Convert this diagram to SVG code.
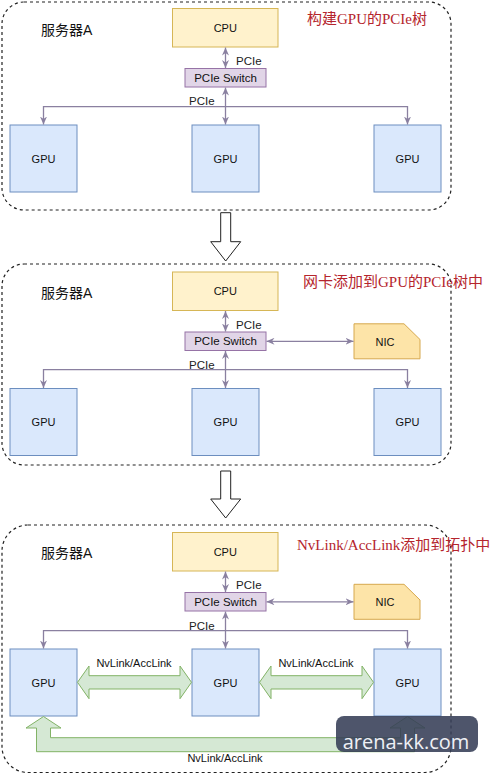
<svg xmlns="http://www.w3.org/2000/svg" width="500" height="774" viewBox="0 0 500 774">
<style>
.panel{fill:none;stroke:#222;stroke-width:1.2;stroke-dasharray:3 3}
.cpu{fill:#fff2cc;stroke:#d6b656;stroke-width:1}
.sw{fill:#e1d5e7;stroke:#9673a6;stroke-width:1}
.gpu{fill:#dae8fc;stroke:#6c8ebf;stroke-width:1}
.nic{fill:#fde4a8;stroke:#d6a84e;stroke-width:1}
.t{font-family:"Liberation Sans",Arial,sans-serif;font-size:11px;fill:#111;text-anchor:middle;dominant-baseline:central}
.lbl{font-family:"Liberation Sans",Arial,sans-serif;font-size:11.5px;fill:#222}
.srv{font-family:"Liberation Sans","Noto Sans CJK SC",sans-serif;font-size:14px;fill:#111}
.title{font-family:"Liberation Serif","Noto Sans CJK SC",serif;font-size:15px;fill:#b5252d}
.edge{fill:none;stroke:#8a80a0;stroke-width:1.3}
.nv{fill:#d5e8d4;stroke:#82b366;stroke-width:1}
.flow{fill:#fff;stroke:#222;stroke-width:1}
</style>
<defs>
<marker id="ah" viewBox="0 0 8 7" refX="8" refY="3.5" markerWidth="8" markerHeight="7" markerUnits="userSpaceOnUse" orient="auto-start-reverse">
<path d="M0,0 L8,3.5 L0,7 L2.5,3.5Z" fill="#8a80a0"/>
</marker>
</defs>
<rect width="500" height="774" fill="#ffffff"/>

<!-- Panel 1 -->
<g id="panel1">
<rect class="panel" x="2" y="2" width="449" height="208" rx="22"/>
<text class="srv" x="41" y="34.5">服务器A</text>
<text class="title" x="307" y="23.5">构建GPU的PCIe树</text>
<g id="p1-cpu"><rect class="cpu" x="172.5" y="8.5" width="105.5" height="38.5"/><text class="t" x="225.3" y="27.8">CPU</text></g>
<g id="p1-switch"><rect class="sw" x="185" y="68.5" width="81" height="18.5"/><text class="t" style="font-size:11.5px" x="225.5" y="77.8">PCIe Switch</text></g>
<g id="p1-gpu1"><rect class="gpu" x="10" y="125" width="67" height="67"/><text class="t" x="43.5" y="158.5">GPU</text></g>
<g id="p1-gpu2"><rect class="gpu" x="192" y="125" width="67" height="67"/><text class="t" x="225.5" y="158.5">GPU</text></g>
<g id="p1-gpu3"><rect class="gpu" x="374" y="125" width="67" height="67"/><text class="t" x="407.5" y="158.5">GPU</text></g>
</g>

<!-- Panel 2 -->
<g id="panel2">
<rect class="panel" x="2" y="264" width="449" height="201" rx="22"/>
<text class="srv" x="41" y="298">服务器A</text>
<text class="title" x="303" y="286.5">网卡添加到GPU的PCIe树中</text>
<g transform="translate(0,263.5)">
<g id="p2-cpu"><rect class="cpu" x="172.5" y="8.5" width="105.5" height="38.5"/><text class="t" x="225.3" y="27.8">CPU</text></g>
<g id="p2-switch"><rect class="sw" x="185" y="68.5" width="81" height="18.5"/><text class="t" style="font-size:11.5px" x="225.5" y="77.8">PCIe Switch</text></g>
<g id="p2-nic"><path class="nic" d="M354,60.3 H404 L420,76 V95.3 H354 Z"/><text class="t" x="385" y="78">NIC</text></g>
<g id="p2-gpu1"><rect class="gpu" x="10" y="125" width="67" height="67"/><text class="t" x="43.5" y="158.5">GPU</text></g>
<g id="p2-gpu2"><rect class="gpu" x="192" y="125" width="67" height="67"/><text class="t" x="225.5" y="158.5">GPU</text></g>
<g id="p2-gpu3"><rect class="gpu" x="374" y="125" width="67" height="67"/><text class="t" x="407.5" y="158.5">GPU</text></g>
</g>
</g>

<!-- Panel 3 -->
<g id="panel3">
<rect class="panel" x="2" y="525" width="449" height="247.5" rx="26"/>
<text class="srv" x="41" y="557.5">服务器A</text>
<text class="title" x="297" y="549.5">NvLink/AccLink添加到拓扑中</text>
<g transform="translate(0,524)">
<g id="p3-cpu"><rect class="cpu" x="172.5" y="8.5" width="105.5" height="38.5"/><text class="t" x="225.3" y="27.8">CPU</text></g>
<g id="p3-switch"><rect class="sw" x="185" y="68.5" width="81" height="18.5"/><text class="t" style="font-size:11.5px" x="225.5" y="77.8">PCIe Switch</text></g>
<g id="p3-nic"><path class="nic" d="M354,60.3 H404 L420,76 V95.3 H354 Z"/><text class="t" x="385" y="78">NIC</text></g>
<g id="p3-gpu1"><rect class="gpu" x="10" y="125" width="67" height="67"/><text class="t" x="43.5" y="158.5">GPU</text></g>
<g id="p3-gpu2"><rect class="gpu" x="192" y="125" width="67" height="67"/><text class="t" x="225.5" y="158.5">GPU</text></g>
<g id="p3-gpu3"><rect class="gpu" x="374" y="125" width="67" height="67"/><text class="t" x="407.5" y="158.5">GPU</text></g>
</g>
</g>

<!-- Connectors -->
<g id="connectors">
<g id="pcie-p1">
<line class="edge" x1="225.5" y1="47.5" x2="225.5" y2="68" marker-start="url(#ah)" marker-end="url(#ah)"/>
<text class="lbl" x="236" y="65">PCIe</text>
<line class="edge" x1="225.5" y1="87.5" x2="225.5" y2="124.5" marker-start="url(#ah)" marker-end="url(#ah)"/>
<path class="edge" d="M225.5,106.7 H43.5 V124.5" marker-end="url(#ah)"/>
<path class="edge" d="M225.5,106.7 H407.5 V124.5" marker-end="url(#ah)"/>
<text class="lbl" x="189" y="105">PCIe</text>
</g>
<g id="pcie-p2" transform="translate(0,263.5)">
<line class="edge" x1="225.5" y1="47.5" x2="225.5" y2="68" marker-start="url(#ah)" marker-end="url(#ah)"/>
<text class="lbl" x="236" y="65">PCIe</text>
<line class="edge" x1="225.5" y1="87.5" x2="225.5" y2="124.5" marker-start="url(#ah)" marker-end="url(#ah)"/>
<path class="edge" d="M225.5,106.2 H43.5 V124.5" marker-end="url(#ah)"/>
<path class="edge" d="M225.5,106.2 H407.5 V124.5" marker-end="url(#ah)"/>
<text class="lbl" x="189" y="105.5">PCIe</text>
<line class="edge" x1="266.5" y1="77.8" x2="353.5" y2="77.8" marker-start="url(#ah)" marker-end="url(#ah)"/>
</g>
<g id="pcie-p3" transform="translate(0,524)">
<line class="edge" x1="225.5" y1="47.5" x2="225.5" y2="68" marker-start="url(#ah)" marker-end="url(#ah)"/>
<text class="lbl" x="236" y="65">PCIe</text>
<line class="edge" x1="225.5" y1="87.5" x2="225.5" y2="124.5" marker-start="url(#ah)" marker-end="url(#ah)"/>
<path class="edge" d="M225.5,106.7 H43.5 V124.5" marker-end="url(#ah)"/>
<path class="edge" d="M225.5,106.7 H407.5 V124.5" marker-end="url(#ah)"/>
<text class="lbl" x="189" y="105.5">PCIe</text>
<line class="edge" x1="266.5" y1="77.8" x2="353.5" y2="77.8" marker-start="url(#ah)" marker-end="url(#ah)"/>
</g>
<g id="nvlink">
<path class="nv" d="M77.5,682.3 L89,666 V675.7 H180 V666 L191.5,682.3 L180,698.7 V689 H89 V698.7 Z"/>
<text class="t" x="134" y="662.7">NvLink/AccLink</text>
<path class="nv" d="M259.5,682.3 L271,666 V675.7 H362 V666 L373.5,682.3 L362,698.7 V689 H271 V698.7 Z"/>
<text class="t" x="316" y="662.7">NvLink/AccLink</text>
<path class="nv" d="M43.5,716.5 L61,728 H50.5 V737.7 H400.5 V728 H390 L407.5,716.5 L425,728 H414.5 V751.7 H36.5 V728 H26 Z"/>
<text class="t" x="225" y="757.7">NvLink/AccLink</text>
</g>
<g id="flow-arrows">
<path class="flow" d="M220.7,212.7 H230.7 V241.7 H240.7 L225.7,261 L210.7,241.7 H220.7 Z"/>
<path class="flow" d="M220.7,471 H230.7 V499 H240.7 L225.7,518 L210.7,499 H220.7 Z"/>
</g>
</g>

<g id="watermark">
<rect x="336" y="716" width="142" height="36" rx="8" fill="#363e57" opacity="0.88"/>
<text x="406" y="741" font-family="'Open Sans','DejaVu Sans',sans-serif" font-size="20" fill="#eef0f5" text-anchor="middle" dominant-baseline="central">arena-kk.com</text>
</g>
</svg>
